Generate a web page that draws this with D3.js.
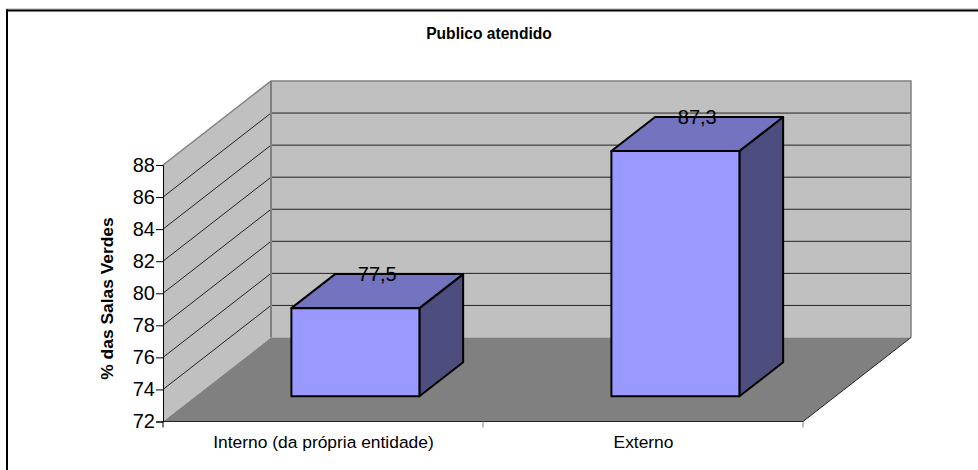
<!DOCTYPE html>
<html>
<head>
<meta charset="utf-8">
<script src="https://cdn.jsdelivr.net/npm/d3@7"></script>
<style>
  html, body { margin: 0; padding: 0; background: #fff; }
  svg { display: block; }
  text { font-family: "Liberation Sans", Arial, sans-serif; fill: #000; }
</style>
</head>
<body>
<div id="chart"></div>
<script>
// Chart data
const categories = ["Interno (da própria entidade)", "Externo"];
const values = [77.5, 87.3];
const valueLabels = ["77,5", "87,3"];
const yTicks = [72, 74, 76, 78, 80, 82, 84, 86, 88];

const width = 978, height = 470;

const svg = d3.select("#chart").append("svg")
    .attr("width", width)
    .attr("height", height);

// Frame: only the top and left edges are in the picture
svg.append("line")
    .attr("x1", 6).attr("x2", 978).attr("y1", 9).attr("y2", 9)
    .attr("stroke", "#aaa").attr("stroke-width", 1);
svg.append("line")
    .attr("x1", 6).attr("x2", 978).attr("y1", 10.5).attr("y2", 10.5)
    .attr("stroke", "#000").attr("stroke-width", 2);
svg.append("line")
    .attr("x1", 7).attr("x2", 7).attr("y1", 9.5).attr("y2", 470)
    .attr("stroke", "#000").attr("stroke-width", 2);

// Scales: front plane plus a depth axis that shifts things up and right
const x = d3.scaleBand().domain(categories).range([163, 803]);
const y = d3.scaleLinear().domain([72, 88]).range([421.5, 165]);
const depthX = d3.scaleLinear().domain([0, 1]).range([0, 108]);
const depthY = d3.scaleLinear().domain([0, 1]).range([0, -84]);

const px = (cx, d) => cx + depthX(d);
const py = (v, d) => y(v) + depthY(d);
const poly = pts => pts.map(p => p.join(",")).join(" ");

const x0 = x.range()[0], x1 = x.range()[1];
const yMin = y.domain()[0], yMax = y.domain()[1];
const wallGrey = "#c0c0c0", edgeGrey = "#808080";

// Side wall
svg.append("polygon")
    .attr("points", poly([[px(x0, 0), py(yMin, 0)], [px(x0, 1), py(yMin, 1)], [px(x0, 1), py(yMax, 1)], [px(x0, 0), py(yMax, 0)]]))
    .attr("fill", wallGrey);

// Back wall
svg.append("polygon")
    .attr("points", poly([[px(x0, 1), py(yMin, 1)], [px(x1, 1), py(yMin, 1)], [px(x1, 1), py(yMax, 1)], [px(x0, 1), py(yMax, 1)]]))
    .attr("fill", wallGrey);

// Gridlines on both walls
const innerTicks = yTicks.filter(t => t > yMin && t < yMax);
svg.append("g").selectAll("polyline")
    .data(innerTicks)
    .enter().append("polyline")
    .attr("points", d => poly([[px(x0, 0), py(d, 0)], [px(x0, 1), py(d, 1)], [px(x1, 1), py(d, 1)]]))
    .attr("fill", "none")
    .attr("stroke", "#222")
    .attr("stroke-width", 1);

// Floor
svg.append("polygon")
    .attr("points", poly([[px(x0, 0), py(yMin, 0)], [px(x1, 0), py(yMin, 0)], [px(x1, 1), py(yMin, 1)], [px(x0, 1), py(yMin, 1)]]))
    .attr("fill", edgeGrey);

// Wall outline in grey
svg.append("polyline")
    .attr("points", poly([[px(x0, 0), py(yMax, 0)], [px(x0, 1), py(yMax, 1)], [px(x1, 1), py(yMax, 1)], [px(x1, 1), py(yMin, 1)]]))
    .attr("fill", "none").attr("stroke", edgeGrey).attr("stroke-width", 1.5);
svg.append("line")
    .attr("x1", px(x0, 1)).attr("x2", px(x0, 1))
    .attr("y1", py(yMax, 1)).attr("y2", py(yMin, 1))
    .attr("stroke", edgeGrey).attr("stroke-width", 2);

// Floor front and right edges
svg.append("polyline")
    .attr("points", poly([[px(x0, 0), py(yMin, 0)], [px(x1, 0), py(yMin, 0)], [px(x1, 1), py(yMin, 1)]]))
    .attr("fill", "none").attr("stroke", "#222").attr("stroke-width", 1);

// Y axis
const yAxis = svg.append("g")
    .attr("transform", `translate(${x0},0)`)
    .call(d3.axisLeft(y).tickValues(yTicks).tickSize(7).tickPadding(1).tickFormat(d3.format("d")));
yAxis.select(".domain").attr("stroke", "#000");
yAxis.selectAll("line").attr("stroke", "#000");
yAxis.selectAll("text").attr("font-size", "20px").attr("fill", "#000");

// X axis (ticks between the categories, labels centred on the band)
const xEdges = [x0, x(categories[1]), x1];
svg.append("g").selectAll("line")
    .data(xEdges)
    .enter().append("line")
    .attr("x1", d => d).attr("x2", d => d)
    .attr("y1", y(yMin)).attr("y2", y(yMin) + 6)
    .attr("stroke", (d, i) => i === 0 ? "#000" : edgeGrey);

svg.append("g").selectAll("text")
    .data(categories)
    .enter().append("text")
    .attr("x", d => x(d) + x.bandwidth() / 2 + 0.5)
    .attr("y", 448)
    .attr("text-anchor", "middle")
    .attr("font-size", "17.4px")
    .text(d => d);

// Bars: front face, top, side
const barWidth = 128 / x.bandwidth();
const barFront = 0.3, barBack = 0.705;
const barData = categories.map((c, i) => ({
    left: x(c) + x.bandwidth() * (1 - barWidth) / 2 + depthX(barFront),
    right: x(c) + x.bandwidth() * (1 + barWidth) / 2 + depthX(barFront),
    value: values[i],
    label: valueLabels[i]
}));
const dx = depthX(barBack - barFront), dy = depthY(barBack - barFront);
const base = py(yMin, barFront);
const topY = d => y(d.value) + depthY(barFront);

const bars = svg.append("g").selectAll("g")
    .data(barData)
    .enter().append("g")
    .attr("stroke", "#000")
    .attr("stroke-width", 2)
    .attr("stroke-linejoin", "round");

// right side
bars.append("polygon")
    .attr("points", d => poly([[d.right, base], [d.right + dx, base + dy], [d.right + dx, topY(d) + dy], [d.right, topY(d)]]))
    .attr("fill", "#4d4d80");
// top
bars.append("polygon")
    .attr("points", d => poly([[d.left, topY(d)], [d.right, topY(d)], [d.right + dx, topY(d) + dy], [d.left + dx, topY(d) + dy]]))
    .attr("fill", "#7373bf");
// front
bars.append("rect")
    .attr("x", d => d.left)
    .attr("y", d => topY(d))
    .attr("width", d => d.right - d.left)
    .attr("height", d => base - topY(d))
    .attr("fill", "#9999ff");

// Value labels
svg.append("g").selectAll("text")
    .data(barData)
    .enter().append("text")
    .attr("x", d => (d.left + d.right) / 2 + dx / 2)
    .attr("y", d => topY(d) + dy + 7)
    .attr("text-anchor", "middle")
    .attr("font-size", "20px")
    .text(d => d.label);

// Title and y axis label
svg.append("text")
    .attr("x", 489).attr("y", 39)
    .attr("text-anchor", "middle")
    .attr("font-size", "15.6px")
    .attr("font-weight", "bold")
    .text("Publico atendido");

svg.append("text")
    .attr("transform", "translate(113,298.5) rotate(-90)")
    .attr("text-anchor", "middle")
    .attr("font-size", "17.4px")
    .attr("font-weight", "bold")
    .text("% das Salas Verdes");
</script>
</body>
</html>
